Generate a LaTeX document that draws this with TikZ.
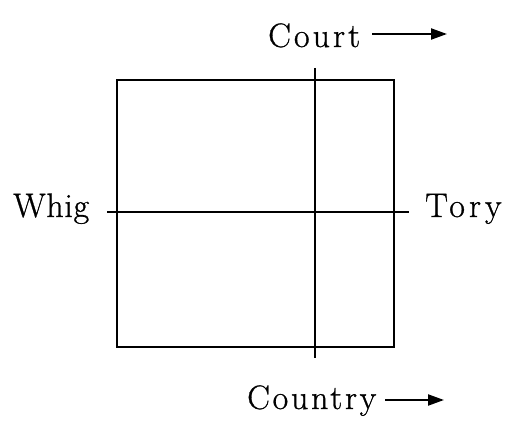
\documentclass[tikz,border=0pt]{standalone}
\usepackage{fontspec}
\setmainfont{Latin Modern Roman}
\usetikzlibrary{arrows.meta}
\tikzset{
  lbl/.style={inner sep=0pt, anchor=base west, font=\fontsize{34}{40}\selectfont\addfontfeature{FakeBold=0.8}},
  rule/.style={line width=2.1pt},
  arr/.style={line width=2.1pt, -{Stealth[length=16pt,width=11pt,inset=0pt]}}
}
\begin{document}
\begin{tikzpicture}[x=1pt,y=-1pt]
\useasboundingbox (0,0) rectangle (509,428);
\draw[rule] (117,80) rectangle (394,347);
\coordinate (vtop) at (315,68);
\coordinate (vbot) at (315,358);
\coordinate (hl) at (107,212);
\coordinate (hr) at (409,212);
\draw[rule] (vtop) -- (vbot);
\draw[rule] (hl) -- (hr);
\node[lbl] (whig) at (13,217) {\addfontfeature{LetterSpace=2}Whig};
\node[lbl] (tory) at (425,217) {\addfontfeature{LetterSpace=12}Tory};
\node[lbl] (court) at (268,47) {\addfontfeature{LetterSpace=9}Court};
\node[lbl] (country) at (247,409) {\addfontfeature{LetterSpace=8}Country};
\coordinate (courtA) at (372,34);
\coordinate (courtB) at (447,34);
\coordinate (countryA) at (385,400);
\coordinate (countryB) at (444,400);
\draw[arr] (courtA) -- (courtB);
\draw[arr] (countryA) -- (countryB);
\end{tikzpicture}
\end{document}
